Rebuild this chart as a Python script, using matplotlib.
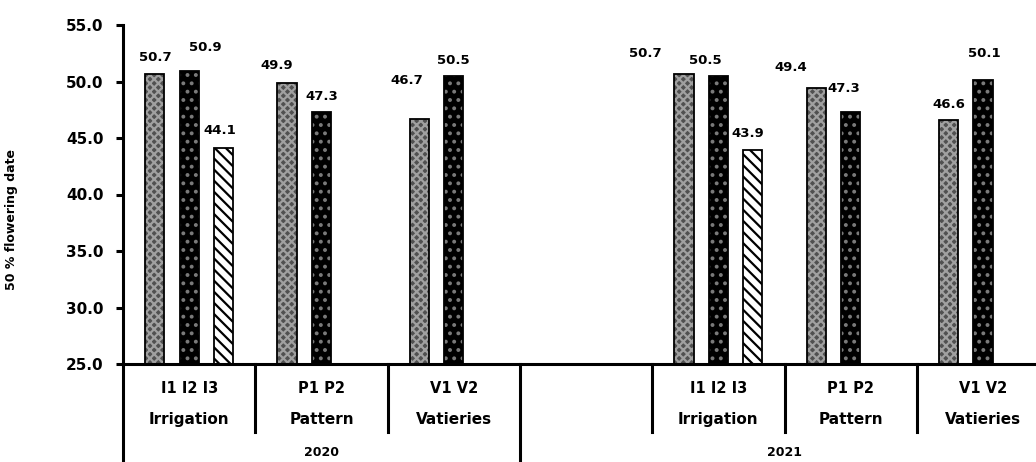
import numpy as np
import matplotlib
matplotlib.use("Agg")
import matplotlib.pyplot as plt

plt.rcParams["hatch.linewidth"] = 1.6

# data (one slot per category block, slot 3 is the empty block of 2021)
cat_top = ["I1 I2 I3", "P1 P2", "V1 V2", "", "I1 I2 I3", "P1 P2", "V1 V2"]
cat_bottom = ["Irrigation", "Pattern", "Vatieries", "", "Irrigation", "Pattern", "Vatieries"]
years = ["2020", "2021"]
s1 = [50.7, 49.9, 46.7, np.nan, 50.7, 49.4, 46.6]
s2 = [50.9, 47.3, 50.5, np.nan, 50.5, 47.3, 50.1]
s3 = [44.1, np.nan, np.nan, np.nan, 43.9, np.nan, np.nan]

# label offsets in pixels (dx, dy) from top of bar, as placed in the original
off1 = [(1, 16), (-10, 17), (-13, 38), None, (-39, 20), (-26, 21), (0, 15)]
off2 = [(16, 24), (0, 16), (0, 15), None, (-13, 15), (-7, 24), (1, 27)]
off3 = [(-4, 18), None, None, None, (-5, 17), None, None]

fig = plt.figure(figsize=(10.36, 4.62), dpi=100)
ax = fig.add_axes([123 / 1036, (462 - 364) / 462, (1036 - 123) / 1036, 339 / 462])

x = np.arange(len(cat_top)) + 0.5
w = 0.145
shift = 0.26

styles = [
    dict(fc="#505050", hc="#a0a0a0", hatch="xxxx"),
    dict(fc="black", hc="#7a7a7a", hatch=".."),
    dict(fc="white", hc="black", hatch="\\\\\\"),
]

for k, (vals, offs) in enumerate([(s1, off1), (s2, off2), (s3, off3)]):
    xs = x + (k - 1) * shift
    st = styles[k]
    ax.bar(xs, np.array(vals) - 25, width=w, bottom=25, color=st["fc"],
           edgecolor=st["hc"], hatch=st["hatch"], linewidth=0, zorder=2)
    ax.bar(xs, np.array(vals) - 25, width=w, bottom=25, facecolor="none",
           edgecolor="black", linewidth=1.3, zorder=3)
    for xi, v, o in zip(xs, vals, offs):
        if o is None or np.isnan(v):
            continue
        ax.annotate(f"{v:.1f}", (xi, v), xytext=o, textcoords="offset pixels",
                    ha="center", va="center", fontsize=9.5, fontweight="bold")

ax.set_xlim(0, 6.9)
ax.set_ylim(25, 55)
ax.set_yticks(np.arange(25, 56, 5))
ax.set_yticklabels([f"{t:.1f}" for t in np.arange(25, 56, 5)], fontsize=11, fontweight="bold")
ax.set_xticks([])
ax.tick_params(axis="y", direction="out", length=5, width=2.2, pad=9)
for s in ["top", "right"]:
    ax.spines[s].set_visible(False)
ax.spines["left"].set_linewidth(2.2)
ax.spines["bottom"].set_linewidth(2.2)

# category table under the axis
tr = ax.get_xaxis_transform()
for b in [1, 2, 4, 5, 6]:
    ax.plot([b, b], [0, -0.2006], transform=tr, color="black", lw=2.2, clip_on=False)
for b in [0, 3]:
    ax.plot([b, b], [0, -0.29], transform=tr, color="black", lw=2.2, clip_on=False)

for xi, t, bt in zip(x, cat_top, cat_bottom):
    ax.text(xi, -0.071, t, transform=tr, ha="center", va="center", fontsize=10.5, fontweight="bold")
    ax.text(xi, -0.165, bt, transform=tr, ha="center", va="center", fontsize=11, fontweight="bold")

ax.text(1.5, -0.262, years[0], transform=tr, ha="center", va="center", fontsize=9, fontweight="bold")
ax.text(5.0, -0.262, years[1], transform=tr, ha="center", va="center", fontsize=9, fontweight="bold")

fig.text(12 / 1036, 1 - 220 / 462, "50 % flowering date", rotation=90, ha="center", va="center",
         fontsize=9, fontweight="bold")

fig.savefig("out.png", dpi=100)
